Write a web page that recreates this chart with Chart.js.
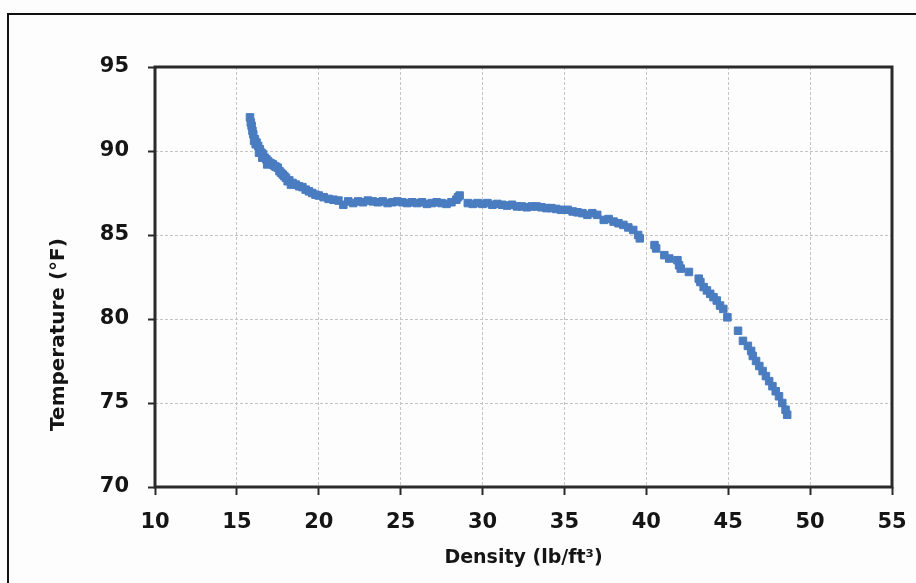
<!DOCTYPE html>
<html>
<head>
<meta charset="utf-8">
<script src="https://cdn.jsdelivr.net/npm/chart.js@4.4.1/dist/chart.umd.min.js"></script>
<style>
  html, body { margin: 0; padding: 0; background: #fdfdfd; overflow: hidden; }
  #frame { position: absolute; left: 7px; top: 13px; width: 960px; height: 640px;
           border: 2.5px solid #111; box-sizing: border-box; }
  #wrap { position: absolute; left: 0; top: 0; width: 916px; height: 583px; }
</style>
</head>
<body>
<div id="frame"></div>
<div id="wrap"><canvas id="c" width="916" height="583"></canvas></div>
<script>
// Measured foam density (lb/ft³) and the matching temperature (°F)
const density = [
  15.8, 15.85, 15.9, 15.95, 16.0, 16.05, 16.1, 16.15, 16.2, 16.3, 16.35, 16.4, 16.5,
  16.55, 16.6, 16.7, 16.8, 16.85, 16.9, 17.0, 17.1, 17.2, 17.3, 17.4, 17.5,
  17.6, 17.7, 17.8, 17.9, 18.0, 18.1, 18.2, 18.3, 18.4, 18.6, 18.8, 19.0,
  19.2, 19.4, 19.6, 19.8, 20.0, 20.3, 20.6, 20.9, 21.2, 21.5,
  21.8, 22.1, 22.4, 22.7, 23.0, 23.3, 23.6, 23.9, 24.2, 24.5,
  24.8, 25.1, 25.4, 25.7, 26.0, 26.3, 26.6, 26.9, 27.2, 27.5,
  27.8, 28.1, 28.4, 28.5, 28.6, 29.1, 29.4, 29.7, 30.0, 30.3,
  30.6, 30.9, 31.2, 31.5, 31.8, 32.1, 32.4, 32.7, 33.0, 33.3,
  33.6, 33.9, 34.2, 34.5, 34.8, 35.2, 35.5, 35.8, 36.1, 36.4,
  36.7, 37.0, 37.4, 37.7, 38.0, 38.3, 38.6, 38.9, 39.2, 39.5,
  39.6, 40.5, 40.6, 41.1, 41.4, 41.9, 42.0, 42.1, 42.6, 43.2,
  43.3, 43.5, 43.7, 43.9, 44.1, 44.3, 44.5, 44.7, 44.95, 45.6,
  45.9, 46.2, 46.4, 46.5, 46.7, 46.9, 47.1, 47.3, 47.5, 47.7,
  47.9, 48.1, 48.3, 48.5, 48.6
];
const temperature = [
  92.0, 91.7, 91.5, 91.2, 91.0, 90.6, 90.7, 90.4, 90.5, 90.3, 89.9, 90.1, 89.9,
  89.6, 89.8, 89.6, 89.5, 89.2, 89.4, 89.3, 89.25, 89.2, 89.1, 89.05, 89.0,
  88.8, 88.7, 88.6, 88.5, 88.4, 88.2, 88.25, 88.0, 88.1, 88.0, 87.9, 87.85,
  87.7, 87.6, 87.5, 87.4, 87.35, 87.25, 87.15, 87.1, 87.05, 86.8,
  87.0, 86.9, 87.0, 86.95, 87.05, 87.0, 86.95, 87.0, 86.9, 86.95,
  87.0, 86.95, 86.9, 86.95, 86.9, 86.95, 86.85, 86.9, 86.95, 86.9,
  86.85, 86.95, 87.1, 87.25, 87.35, 86.9, 86.85, 86.9, 86.85, 86.9,
  86.8, 86.85, 86.8, 86.75, 86.8, 86.7, 86.7, 86.65, 86.7, 86.7,
  86.65, 86.6, 86.6, 86.55, 86.5, 86.5, 86.4, 86.35, 86.3, 86.2,
  86.3, 86.2, 85.9, 85.95, 85.8, 85.7, 85.6, 85.45, 85.3, 85.0,
  84.8, 84.4, 84.2, 83.8, 83.6, 83.5, 83.2, 83.0, 82.8, 82.4,
  82.2, 81.9, 81.7, 81.5, 81.3, 81.1, 80.8, 80.6, 80.1, 79.3,
  78.7, 78.4, 78.1, 77.8, 77.5, 77.2, 76.9, 76.6, 76.3, 76.0,
  75.7, 75.4, 75.0, 74.6, 74.3
];
const xRange = { min: 10, max: 55, step: 5 };
const yRange = { min: 70, max: 95, step: 5 };
const xTitle = 'Density (lb/ft³)';
const yTitle = 'Temperature (°F)';

const points = density.map((d, i) => ({ x: d, y: temperature[i] }));

const FONT = "'DejaVu Sans', 'Liberation Sans', sans-serif";
const INK = '#151515';

// Solid frame around the plotting area
const plotFrame = {
  id: 'plotFrame',
  beforeDatasetsDraw(chart) {
    const { ctx, chartArea: a } = chart;
    ctx.save();
    ctx.strokeStyle = '#2a2a2a';
    ctx.lineWidth = 3;
    ctx.strokeRect(a.left, a.top, a.right - a.left, a.bottom - a.top);
    ctx.restore();
  }
};

// Vertical axis title, set a little below the middle of the axis
const yAxisTitle = {
  id: 'yAxisTitle',
  afterDraw(chart) {
    const { ctx, chartArea: a } = chart;
    ctx.save();
    ctx.translate(59, a.top + (a.bottom - a.top) * 0.637);
    ctx.rotate(-Math.PI / 2);
    ctx.fillStyle = INK;
    ctx.font = "bold 20px " + FONT;
    ctx.textAlign = 'center';
    ctx.textBaseline = 'middle';
    ctx.fillText(yTitle, 0, 0);
    ctx.restore();
  }
};

new Chart(document.getElementById('c'), {
  type: 'scatter',
  data: {
    datasets: [{
      data: points,
      pointStyle: 'rect',
      pointRadius: 5.3,
      pointHoverRadius: 5.3,
      backgroundColor: '#4a7cc0',
      borderColor: '#4a7cc0',
      borderWidth: 1
    }]
  },
  options: {
    responsive: false,
    animation: false,
    devicePixelRatio: 1,
    layout: { padding: { top: 67, right: 24, left: 0, bottom: 0 } },
    plugins: { legend: { display: false }, tooltip: { enabled: false } },
    scales: {
      x: {
        type: 'linear',
        min: xRange.min, max: xRange.max,
        afterFit(s) { s.height = 96; s.paddingLeft = 0; s.paddingRight = 0; },
        ticks: { stepSize: xRange.step, color: INK, padding: 15,
                 font: { family: FONT, size: 21, weight: 'bold' } },
        grid: { color: '#c4c4c4', lineWidth: 1, tickLength: 8,
                tickColor: '#2a2a2a', tickWidth: 2, tickBorderDash: [] },
        border: { display: false, dash: [3, 2] },
        title: { display: true, text: xTitle, color: INK,
                 font: { family: FONT, size: 19, weight: 'bold' },
                 padding: { top: 14, bottom: 14 } }
      },
      y: {
        type: 'linear',
        min: yRange.min, max: yRange.max,
        afterFit(s) { s.width = 155; s.paddingTop = 0; s.paddingBottom = 0; },
        ticks: { stepSize: yRange.step, color: INK, padding: 19,
                 font: { family: FONT, size: 21, weight: 'bold' } },
        grid: { color: '#c4c4c4', lineWidth: 1, tickLength: 7,
                tickColor: '#2a2a2a', tickWidth: 2, tickBorderDash: [] },
        border: { display: false, dash: [3, 2] },
        title: { display: false }
      }
    }
  },
  plugins: [plotFrame, yAxisTitle]
});
</script>
</body>
</html>
